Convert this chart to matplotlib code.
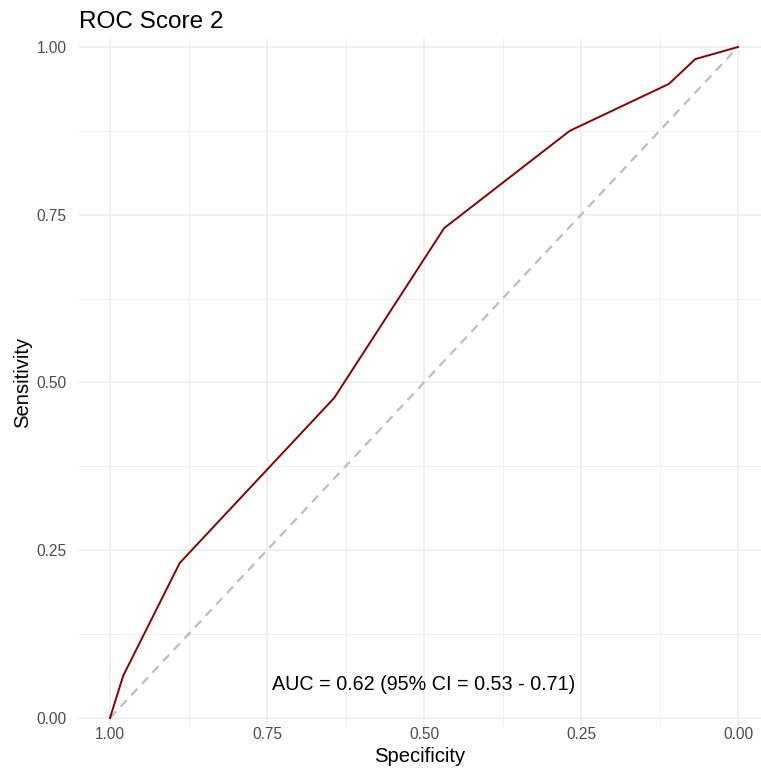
import matplotlib.pyplot as plt
from matplotlib.ticker import MultipleLocator

plt.rcParams['font.family'] = ['Liberation Sans', 'DejaVu Sans']

# ROC curve points
specificity = [1.00, 0.979, 0.889, 0.643, 0.468, 0.268, 0.110, 0.068, 0.00]
sensitivity = [0.00, 0.063, 0.231, 0.477, 0.730, 0.875, 0.945, 0.982, 1.00]
auc_label = "AUC = 0.62 (95% CI = 0.53 - 0.71)"
title = "ROC Score 2"

fig = plt.figure(figsize=(7.61, 7.69), dpi=100)
# axes placed so that 1.00 -> x=110px, 0.00 -> x=738px, y 0 -> 718px, 1 -> 47px
ax = fig.add_axes([79 / 761, (769 - 726) / 769, (761 - 79) / 761, (726 - 39) / 769])
ax.set_xlim(1 + 31 / 628, -23 / 628)
ax.set_ylim(-8 / 671, 1 + 8 / 671)

ax.xaxis.set_major_locator(MultipleLocator(0.25))
ax.xaxis.set_minor_locator(MultipleLocator(0.125))
ax.yaxis.set_major_locator(MultipleLocator(0.25))
ax.yaxis.set_minor_locator(MultipleLocator(0.125))
ax.grid(which='major', color='#ebebeb', linewidth=1.1)
ax.grid(which='minor', color='#efefef', linewidth=0.7)
ax.set_axisbelow(True)
for s in ax.spines.values():
    s.set_visible(False)
ax.tick_params(which='both', length=0, labelsize=11.2, labelcolor='#4d4d4d')
ax.tick_params(axis='x', pad=1)
ax.tick_params(axis='y', pad=9)
ax.set_xticks([1.0, 0.75, 0.5, 0.25, 0.0])
ax.set_xticklabels(["1.00", "0.75", "0.50", "0.25", "0.00"])
ax.set_yticks([0.0, 0.25, 0.5, 0.75, 1.0])
ax.set_yticklabels(["0.00", "0.25", "0.50", "0.75", "1.00"])

ax.plot([1, 0], [0, 1], color='#bdbdbd', linestyle=(0, (4, 3)), linewidth=1.6)
ax.plot(specificity, sensitivity, color='#8b0000', linewidth=1.4)

ax.text(0.5, 0.05, auc_label, ha='center', va='center', fontsize=14.2, color='black')

ax.set_xlabel("Specificity", fontsize=14.6, labelpad=3)
ax.set_ylabel("Sensitivity", fontsize=14.6, labelpad=3)
fig.text(79 / 761, 1 - 22 / 769, title, fontsize=17.6, ha='left', va='center')

fig.savefig("out.png", dpi=100)
